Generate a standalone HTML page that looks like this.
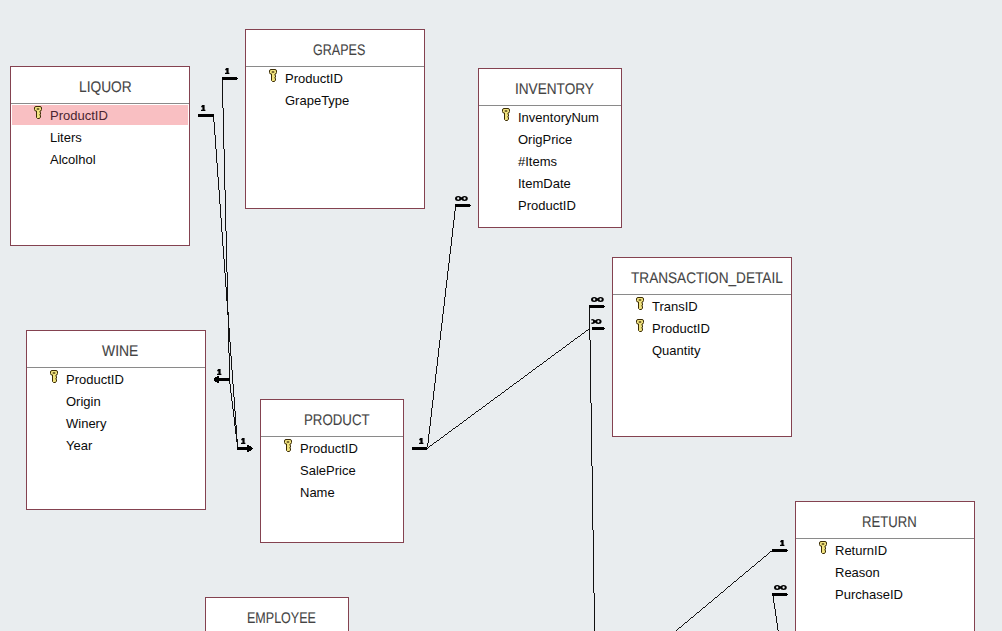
<!DOCTYPE html>
<html><head><meta charset="utf-8">
<style>
html,body{margin:0;padding:0;}
body{width:1002px;height:631px;background:#e9edef;position:relative;overflow:hidden;font-family:"Liberation Sans",sans-serif;}
.t{position:absolute;background:#fff;border:1px solid #844250;box-sizing:border-box;}
.h{position:absolute;left:0;right:0;top:0;height:36px;border-bottom:1px solid #8a8a8a;}
.ti{position:absolute;top:12.5px;text-rendering:geometricPrecision;font-size:15px;line-height:15px;color:#444;white-space:nowrap;transform-origin:0 0;-webkit-text-stroke:0.1px #444;}
.fl{position:absolute;left:39px;top:38px;font-size:13px;line-height:22px;color:#0a0a0a;white-space:nowrap;}
.fl div{height:22px;}
.pk{position:absolute;left:1px;right:1px;top:38px;height:20px;background:#f9bfc2;}
.k{position:absolute;left:23px;width:9px;height:13px;overflow:visible}
</style></head><body>

<!-- LIQUOR -->
<div class="t" style="left:10px;top:66px;width:180px;height:180px;">
  <div class="h"></div>
  <div class="pk"></div>
  <span class="ti" style="left:67.7px;transform:scale(0.9161,1.03)">LIQUOR</span>
  <svg class="k" style="top:39px" viewBox="0 0 9 13"><use href="#key"/></svg>
  <div class="fl"><div style="color:#4a2530">ProductID</div><div>Liters</div><div>Alcolhol</div></div>
</div>

<!-- GRAPES -->
<div class="t" style="left:245px;top:29px;width:180px;height:180px;">
  <div class="h"></div>
  <span class="ti" style="left:67.0px;transform:scale(0.8364,1.03)">GRAPES</span>
  <svg class="k" style="top:39px" viewBox="0 0 9 13"><use href="#key"/></svg>
  <div class="fl"><div>ProductID</div><div>GrapeType</div></div>
</div>

<!-- INVENTORY -->
<div class="t" style="left:478px;top:68px;width:144px;height:160px;">
  <div class="h"></div>
  <span class="ti" style="left:35.8px;transform:scale(0.907,1.03)">INVENTORY</span>
  <svg class="k" style="top:39px" viewBox="0 0 9 13"><use href="#key"/></svg>
  <div class="fl"><div>InventoryNum</div><div>OrigPrice</div><div>#Items</div><div>ItemDate</div><div>ProductID</div></div>
</div>

<!-- TRANSACTION_DETAIL -->
<div class="t" style="left:612px;top:257px;width:180px;height:180px;">
  <div class="h"></div>
  <span class="ti" style="left:17.8px;transform:scale(0.9072,1.03)">TRANSACTION_DETAIL</span>
  <svg class="k" style="top:39px" viewBox="0 0 9 13"><use href="#key"/></svg>
  <svg class="k" style="top:61px" viewBox="0 0 9 13"><use href="#key"/></svg>
  <div class="fl"><div>TransID</div><div>ProductID</div><div>Quantity</div></div>
</div>

<!-- WINE -->
<div class="t" style="left:26px;top:330px;width:180px;height:180px;">
  <div class="h"></div>
  <span class="ti" style="left:75.3px;transform:scale(0.9282,1.03)">WINE</span>
  <svg class="k" style="top:39px" viewBox="0 0 9 13"><use href="#key"/></svg>
  <div class="fl"><div>ProductID</div><div>Origin</div><div>Winery</div><div>Year</div></div>
</div>

<!-- PRODUCT -->
<div class="t" style="left:260px;top:399px;width:144px;height:144px;">
  <div class="h"></div>
  <span class="ti" style="left:43.0px;transform:scale(0.8849,1.03)">PRODUCT</span>
  <svg class="k" style="top:39px" viewBox="0 0 9 13"><use href="#key"/></svg>
  <div class="fl"><div>ProductID</div><div>SalePrice</div><div>Name</div></div>
</div>

<!-- EMPLOYEE -->
<div class="t" style="left:205px;top:597px;width:144px;height:160px;">
  <div class="h"></div>
  <span class="ti" style="left:40.5px;transform:scale(0.8346,1.03)">EMPLOYEE</span>
</div>

<!-- RETURN -->
<div class="t" style="left:795px;top:501px;width:180px;height:180px;">
  <div class="h"></div>
  <span class="ti" style="left:65.9px;transform:scale(0.8754,1.03)">RETURN</span>
  <svg class="k" style="top:39px" viewBox="0 0 9 13"><use href="#key"/></svg>
  <div class="fl"><div>ReturnID</div><div>Reason</div><div>PurchaseID</div></div>
</div>

<svg width="0" height="0" style="position:absolute">
  <defs>
    <g id="key">
      <path d="M2 0.5 H6 A1.5 1.5 0 0 1 7.5 2 V3.5 A1.5 1.5 0 0 1 6 5 V6.5 H6.5 V8 H6 V9.5 H6.5 V11 L5.5 12.5 H3.5 L2.5 11.5 V5 H2 A1.5 1.5 0 0 1 0.5 3.5 V2 A1.5 1.5 0 0 1 2 0.5 Z" fill="#f0e27e" stroke="#3b2c05" stroke-width="1"/>
      <ellipse cx="4" cy="2.9" rx="1.5" ry="0.75" fill="#3b2c05"/>
    </g>
  </defs>
</svg>

<svg width="1002" height="631" style="position:absolute;left:0;top:0">
  <defs>
    <path id="one" d="M1.3 0 H3.6 V4.8 H4.4 V6 H0 V4.8 H1.4 V2.2 H0.2 V1.2 Z" fill="#000"/>
    <g id="inf" fill="#000">
      <path fill-rule="evenodd" d="M0 2.5 a3.2 2.5 0 1 0 6.4 0 a3.2 2.5 0 1 0 -6.4 0 Z M2.05 2.5 a1.15 1.15 0 1 0 2.3 0 a1.15 1.15 0 1 0 -2.3 0 Z"/>
      <path fill-rule="evenodd" d="M6.4 2.5 a3.2 2.5 0 1 0 6.4 0 a3.2 2.5 0 1 0 -6.4 0 Z M8.45 2.5 a1.15 1.15 0 1 0 2.3 0 a1.15 1.15 0 1 0 -2.3 0 Z"/>
      <rect x="5.4" y="1.3" width="2" height="2.4"/>
    </g>
    <clipPath id="clipinf"><rect x="591.4" y="310" width="20" height="20"/></clipPath>
  </defs>
  <path fill="#111" shape-rendering="crispEdges" d="M213 116h1v6h-1zM214 122h1v13h-1zM215 135h1v14h-1zM216 149h1v14h-1zM217 163h1v14h-1zM218 177h1v13h-1zM219 190h1v14h-1zM220 204h1v14h-1zM221 218h1v14h-1zM222 79h1v29h-1zM222 232h1v14h-1zM223 108h1v41h-1zM223 246h1v13h-1zM224 149h1v41h-1zM224 259h1v14h-1zM225 190h1v41h-1zM225 273h1v14h-1zM226 231h1v41h-1zM226 287h1v14h-1zM227 272h1v43h-1zM228 312h1v41h-1zM229 328h1v14h-1zM229 353h1v25h-1zM229 381h1v3h-1zM230 342h1v14h-1zM230 384h1v9h-1zM231 356h1v14h-1zM231 393h1v8h-1zM232 370h1v14h-1zM232 401h1v8h-1zM233 384h1v13h-1zM233 409h1v8h-1zM234 397h1v14h-1zM234 417h1v9h-1zM235 411h1v14h-1zM235 426h1v8h-1zM236 425h1v17h-1zM237 439h1v8h-1zM427 443h1v4h-1zM427 448h1v1h-1zM428 434h1v9h-1zM428 447h1v1h-1zM429 426h1v8h-1zM429 446h1v1h-1zM430 417h1v9h-1zM430 445h1v1h-1zM431 408h1v9h-1zM431 445h1v1h-1zM432 400h1v8h-1zM432 444h1v1h-1zM433 391h1v9h-1zM433 443h1v1h-1zM434 383h1v8h-1zM434 442h1v1h-1zM435 374h1v9h-1zM435 442h1v1h-1zM436 366h1v8h-1zM436 441h1v1h-1zM437 357h1v9h-1zM437 440h1v1h-1zM438 348h1v9h-1zM438 440h1v1h-1zM439 340h1v8h-1zM439 439h1v1h-1zM440 331h1v9h-1zM440 438h1v1h-1zM441 323h1v8h-1zM441 437h1v1h-1zM442 314h1v9h-1zM442 437h1v1h-1zM443 306h1v8h-1zM443 436h1v1h-1zM444 297h1v9h-1zM444 435h1v1h-1zM445 288h1v9h-1zM445 434h1v1h-1zM446 280h1v8h-1zM446 434h1v1h-1zM447 271h1v9h-1zM447 433h1v1h-1zM448 263h1v8h-1zM448 432h1v1h-1zM449 254h1v9h-1zM449 431h1v1h-1zM450 246h1v8h-1zM450 431h1v1h-1zM451 237h1v9h-1zM451 430h1v1h-1zM452 228h1v9h-1zM452 429h1v1h-1zM453 220h1v8h-1zM453 428h1v1h-1zM454 211h1v9h-1zM454 428h1v1h-1zM455 207h1v4h-1zM455 427h1v1h-1zM456 426h1v1h-1zM457 426h1v1h-1zM458 425h1v1h-1zM459 424h1v1h-1zM460 423h1v1h-1zM461 423h1v1h-1zM462 422h1v1h-1zM463 421h1v1h-1zM464 420h1v1h-1zM465 420h1v1h-1zM466 419h1v1h-1zM467 418h1v1h-1zM468 417h1v1h-1zM469 417h1v1h-1zM470 416h1v1h-1zM471 415h1v1h-1zM472 414h1v1h-1zM473 414h1v1h-1zM474 413h1v1h-1zM475 412h1v1h-1zM476 411h1v1h-1zM477 411h1v1h-1zM478 410h1v1h-1zM479 409h1v1h-1zM480 409h1v1h-1zM481 408h1v1h-1zM482 407h1v1h-1zM483 406h1v1h-1zM484 406h1v1h-1zM485 405h1v1h-1zM486 404h1v1h-1zM487 403h1v1h-1zM488 403h1v1h-1zM489 402h1v1h-1zM490 401h1v1h-1zM491 400h1v1h-1zM492 400h1v1h-1zM493 399h1v1h-1zM494 398h1v1h-1zM495 397h1v1h-1zM496 397h1v1h-1zM497 396h1v1h-1zM498 395h1v1h-1zM499 395h1v1h-1zM500 394h1v1h-1zM501 393h1v1h-1zM502 392h1v1h-1zM503 392h1v1h-1zM504 391h1v1h-1zM505 390h1v1h-1zM506 389h1v1h-1zM507 389h1v1h-1zM508 388h1v1h-1zM509 387h1v1h-1zM510 386h1v1h-1zM511 386h1v1h-1zM512 385h1v1h-1zM513 384h1v1h-1zM514 383h1v1h-1zM515 383h1v1h-1zM516 382h1v1h-1zM517 381h1v1h-1zM518 381h1v1h-1zM519 380h1v1h-1zM520 379h1v1h-1zM521 378h1v1h-1zM522 378h1v1h-1zM523 377h1v1h-1zM524 376h1v1h-1zM525 375h1v1h-1zM526 375h1v1h-1zM527 374h1v1h-1zM528 373h1v1h-1zM529 372h1v1h-1zM530 372h1v1h-1zM531 371h1v1h-1zM532 370h1v1h-1zM533 369h1v1h-1zM534 369h1v1h-1zM535 368h1v1h-1zM536 367h1v1h-1zM537 366h1v1h-1zM538 366h1v1h-1zM539 365h1v1h-1zM540 364h1v1h-1zM541 364h1v1h-1zM542 363h1v1h-1zM543 362h1v1h-1zM544 361h1v1h-1zM545 361h1v1h-1zM546 360h1v1h-1zM547 359h1v1h-1zM548 358h1v1h-1zM549 358h1v1h-1zM550 357h1v1h-1zM551 356h1v1h-1zM552 355h1v1h-1zM553 355h1v1h-1zM554 354h1v1h-1zM555 353h1v1h-1zM556 352h1v1h-1zM557 352h1v1h-1zM558 351h1v1h-1zM559 350h1v1h-1zM560 350h1v1h-1zM561 349h1v1h-1zM562 348h1v1h-1zM563 347h1v1h-1zM564 347h1v1h-1zM565 346h1v1h-1zM566 345h1v1h-1zM567 344h1v1h-1zM568 344h1v1h-1zM569 343h1v1h-1zM570 342h1v1h-1zM571 341h1v1h-1zM572 341h1v1h-1zM573 340h1v1h-1zM574 339h1v1h-1zM575 338h1v1h-1zM576 338h1v1h-1zM577 337h1v1h-1zM578 336h1v1h-1zM579 336h1v1h-1zM580 335h1v1h-1zM581 334h1v1h-1zM582 333h1v1h-1zM583 333h1v1h-1zM584 332h1v1h-1zM585 331h1v1h-1zM586 330h1v1h-1zM587 330h1v1h-1zM588 329h1v1h-1zM589 308h1v32h-1zM590 340h1v63h-1zM591 403h1v63h-1zM592 466h1v64h-1zM593 530h1v63h-1zM594 593h1v38h-1zM676 630h1v1h-1zM677 629h1v1h-1zM678 628h1v1h-1zM679 627h1v1h-1zM680 627h1v1h-1zM681 626h1v1h-1zM682 625h1v1h-1zM683 624h1v1h-1zM684 623h1v1h-1zM685 622h1v1h-1zM686 622h1v1h-1zM687 621h1v1h-1zM688 620h1v1h-1zM689 619h1v1h-1zM690 618h1v1h-1zM691 617h1v1h-1zM692 617h1v1h-1zM693 616h1v1h-1zM694 615h1v1h-1zM695 614h1v1h-1zM696 613h1v1h-1zM697 612h1v1h-1zM698 612h1v1h-1zM699 611h1v1h-1zM700 610h1v1h-1zM701 609h1v1h-1zM702 608h1v1h-1zM703 607h1v1h-1zM704 607h1v1h-1zM705 606h1v1h-1zM706 605h1v1h-1zM707 604h1v1h-1zM708 603h1v1h-1zM709 602h1v1h-1zM710 602h1v1h-1zM711 601h1v1h-1zM712 600h1v1h-1zM713 599h1v1h-1zM714 598h1v1h-1zM715 597h1v1h-1zM716 597h1v1h-1zM717 596h1v1h-1zM718 595h1v1h-1zM719 594h1v1h-1zM720 593h1v1h-1zM721 592h1v1h-1zM722 592h1v1h-1zM723 591h1v1h-1zM724 590h1v1h-1zM725 589h1v1h-1zM726 588h1v1h-1zM727 587h1v1h-1zM728 586h1v1h-1zM729 586h1v1h-1zM730 585h1v1h-1zM731 584h1v1h-1zM732 583h1v1h-1zM733 582h1v1h-1zM734 581h1v1h-1zM735 581h1v1h-1zM736 580h1v1h-1zM737 579h1v1h-1zM738 578h1v1h-1zM739 577h1v1h-1zM740 576h1v1h-1zM741 576h1v1h-1zM742 575h1v1h-1zM743 574h1v1h-1zM744 573h1v1h-1zM745 572h1v1h-1zM746 571h1v1h-1zM747 571h1v1h-1zM748 570h1v1h-1zM749 569h1v1h-1zM750 568h1v1h-1zM751 567h1v1h-1zM752 566h1v1h-1zM753 566h1v1h-1zM754 565h1v1h-1zM755 564h1v1h-1zM756 563h1v1h-1zM757 562h1v1h-1zM758 561h1v1h-1zM759 561h1v1h-1zM760 560h1v1h-1zM761 559h1v1h-1zM762 558h1v1h-1zM763 557h1v1h-1zM764 556h1v1h-1zM765 556h1v1h-1zM766 555h1v1h-1zM767 554h1v1h-1zM768 553h1v1h-1zM769 552h1v1h-1zM770 551h1v1h-1zM771 551h1v1h-1zM773 596h1v7h-1zM774 603h1v6h-1zM775 609h1v7h-1zM776 616h1v7h-1zM777 623h1v7h-1zM778 630h1v1h-1z"/>
  <g fill="#000" shape-rendering="crispEdges">
    <rect x="198" y="114" width="16" height="3"/>
    <rect x="222" y="77" width="15" height="3"/><rect x="237" y="78" width="1" height="1"/>
    <rect x="214" y="378" width="16" height="3"/>
    <rect x="215" y="377" width="2" height="5"/><rect x="217" y="376" width="2" height="7"/>
    <rect x="237" y="447" width="15" height="3"/>
    <rect x="247" y="445" width="2" height="7"/><rect x="249" y="446" width="2" height="5"/><rect x="252" y="448" width="1" height="1"/>
    <rect x="412" y="447" width="15" height="3"/>
    <rect x="455" y="204" width="15" height="3"/><rect x="470" y="205" width="1" height="1"/>
    <rect x="589" y="305" width="15" height="3"/><rect x="604" y="306" width="1" height="1"/>
    <rect x="592" y="327" width="12" height="3"/><rect x="604" y="328" width="1" height="1"/>
    <rect x="772" y="549" width="15" height="3"/><rect x="787" y="550" width="1" height="1"/>
    <rect x="772" y="593" width="15" height="3"/><rect x="787" y="594" width="1" height="1"/>
  </g>
  <use href="#one" x="201" y="105"/>
  <use href="#one" x="225" y="68"/>
  <use href="#one" x="217" y="369"/>
  <use href="#one" x="241" y="438"/>
  <use href="#one" x="419" y="438"/>
  <use href="#one" x="780" y="540"/>
  <use href="#inf" x="455" y="196"/>
  <use href="#inf" x="591" y="297"/>
  <g clip-path="url(#clipinf)"><use href="#inf" x="588.8" y="319"/></g>
  <use href="#inf" x="774" y="585"/>
</svg>
  <use href="#inf" x="774" y="585"/>
</svg>
</body></html>
